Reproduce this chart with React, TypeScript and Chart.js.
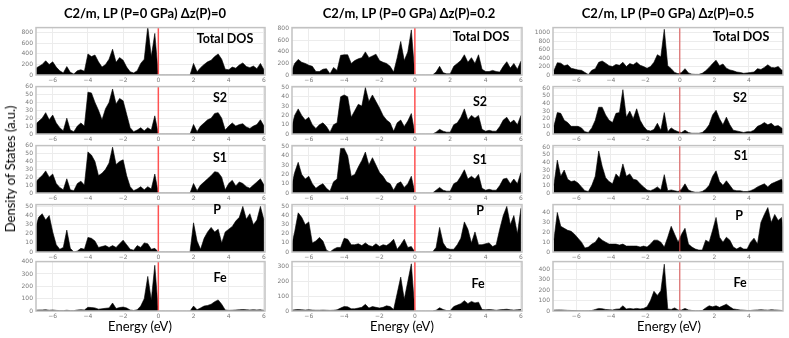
import React, { useEffect, useRef } from 'react';
import { Chart, registerables } from 'chart.js';
Chart.register(...registerables);

// ---------- text ----------
const TITLES = ['C2/m, LP (P=0 GPa) Δz(P)=0', 'C2/m, LP (P=0 GPa) Δz(P)=0.2', 'C2/m, LP (P=0 GPa) Δz(P)=0.5'];
const PANEL_NAMES = ['Total DOS', 'S2', 'S1', 'P', 'Fe'];
const Y_TITLE = 'Density of States (a.u.)';
const X_TITLE = 'Energy (eV)';
const X_TICKS = [-6, -4, -2, 0, 2, 4, 6];
const Y_STEPS = [200, 10, 10, 10, 100];

// ---------- energy grids (eV) ----------
const ENERGY_A = [
  -7.0, -6.8, -6.6, -6.4, -6.2,
  -6.0, -5.8, -5.6, -5.4, -5.2,
  -5.0, -4.8, -4.6, -4.4, -4.2,
  -4.0, -3.8, -3.6, -3.4, -3.2,
  -3.0, -2.8, -2.6, -2.4, -2.2,
  -2.0, -1.8, -1.6, -1.4, -1.2,
  -1.0, -0.8, -0.6, -0.4, -0.2,
  0.0, 0.2, 0.4, 0.6, 0.8,
  1.0, 1.2, 1.4, 1.6, 1.8,
  2.0, 2.2, 2.4, 2.6, 2.8,
  3.0, 3.2, 3.4, 3.6, 3.8,
  4.0, 4.2, 4.4, 4.6, 4.8,
  5.0, 5.2, 5.4, 5.6, 5.8,
  6.0,
];
const ENERGY_B = [
  -7.3, -7.1, -6.9, -6.7, -6.5,
  -6.3, -6.1, -5.9, -5.7, -5.5,
  -5.3, -5.1, -4.9, -4.7, -4.5,
  -4.3, -4.1, -3.9, -3.7, -3.5,
  -3.3, -3.1, -2.9, -2.7, -2.5,
  -2.3, -2.1, -1.9, -1.7, -1.5,
  -1.3, -1.1, -0.9, -0.7, -0.5,
  -0.3, -0.1, 0.1, 0.3, 0.5,
  0.7, 0.9, 1.1, 1.3, 1.5,
  1.7, 1.9, 2.1, 2.3, 2.5,
  2.7, 2.9, 3.1, 3.3, 3.5,
  3.7, 3.9, 4.1, 4.3, 4.5,
  4.7, 4.9, 5.1, 5.3, 5.5,
  5.7, 5.9, 6.1,
];

// ---------- Δz(P)=0 (grid ENERGY_A) ----------
const TOTAL_0 = [
  120, 160, 200, 270, 200,
  250, 150, 80, 40, 160,
  50, 20, 80, 100, 70,
  400, 350, 380, 250, 150,
  200, 300, 490, 240, 330,
  280, 150, 60, 40, 80,
  220, 300, 920, 350, 790,
  0, 0, 0, 0, 0,
  0, 0, 0, 0, 0,
  220, 60, 140, 200, 250,
  280, 350, 400, 300, 110,
  100, 150, 130, 190, 230,
  160, 140, 170, 120, 220,
  100,
];
const S2_0 = [
  12, 16, 20, 27, 18,
  24, 14, 8, 4, 20,
  5, 3, 10, 14, 10,
  53, 52, 40, 30, 18,
  32, 40, 57, 38, 45,
  42, 25, 8, 3, 5,
  8, 4, 8, 5, 23,
  0, 0, 0, 0, 0,
  0, 0, 0, 0, 0,
  12, 3, 10, 14, 18,
  20, 26, 27, 20, 5,
  10, 14, 10, 12, 13,
  9, 7, 10, 12, 18,
  10,
];
const S1_0 = [
  13, 18, 22, 28, 20,
  24, 12, 7, 4, 18,
  4, 3, 12, 15, 10,
  52, 48, 40, 22, 25,
  30, 38, 58, 36, 40,
  42, 22, 8, 3, 5,
  8, 4, 8, 5, 24,
  0, 0, 0, 0, 0,
  0, 0, 0, 0, 0,
  12, 3, 10, 14, 18,
  22, 27, 26, 20, 4,
  12, 16, 9, 14, 12,
  8, 6, 10, 14, 18,
  10,
];
const P_0 = [
  25, 38, 42, 35, 40,
  22, 8, 3, 5, 24,
  4, 0, 1, 4, 3,
  16, 15, 12, 5, 6,
  7, 5, 7, 5, 9,
  13, 8, 3, 2, 7,
  5, 10, 9, 3, 4,
  0, 0, 0, 0, 0,
  0, 0, 0, 0, 0,
  32, 12, 3, 15, 22,
  27, 22, 25, 10, 22,
  25, 28, 34, 38, 50,
  36, 42, 30, 35, 50,
  35,
];
const FE_0 = [
  5, 8, 8, 10, 6,
  8, 5, 3, 3, 6,
  3, 3, 8, 10, 8,
  30, 28, 25, 15, 18,
  22, 25, 65, 20, 28,
  32, 25, 8, 4, 10,
  40, 100, 280, 90, 370,
  0, 0, 0, 0, 0,
  0, 0, 0, 0, 0,
  40, 10, 25, 40, 45,
  55, 75, 90, 55, 8,
  5, 6, 8, 10, 12,
  10, 8, 10, 8, 10,
  5,
];

// ---------- Δz(P)=0.2 (grid ENERGY_A) ----------
const TOTAL_02 = [
  50, 200, 270, 220, 200,
  170, 150, 60, 60, 100,
  110, 20, 130, 80, 340,
  350, 350, 200, 250, 280,
  300, 400, 300, 330, 360,
  250, 220, 200, 150, 50,
  300, 580, 250, 400, 780,
  0, 0, 0, 0, 0,
  0, 50, 150, 40, 20,
  20, 150, 200, 250, 350,
  220, 300, 200, 350, 100,
  60, 60, 80, 60, 50,
  150, 230, 120, 200, 100,
  240,
];
const S2_02 = [
  5, 20, 27, 20, 15,
  18, 10, 6, 10, 12,
  8, 2, 10, 12, 40,
  42, 40, 18, 25, 32,
  30, 50, 35, 42, 35,
  28, 20, 15, 12, 3,
  12, 15, 8, 14, 22,
  0, 0, 0, 0, 0,
  0, 2, 5, 3, 2,
  2, 10, 12, 18, 27,
  15, 20, 17, 20, 5,
  3, 4, 3, 3, 8,
  15, 18, 12, 15, 10,
  20,
];
const S1_02 = [
  5, 22, 33, 20, 15,
  18, 10, 5, 8, 10,
  5, 2, 12, 15, 48,
  48, 40, 18, 20, 28,
  35, 44, 30, 38, 30,
  22, 18, 12, 10, 3,
  10, 12, 6, 10, 18,
  0, 0, 0, 0, 0,
  0, 3, 6, 3, 2,
  2, 10, 12, 18, 25,
  15, 18, 15, 20, 5,
  3, 4, 3, 3, 8,
  15, 16, 10, 15, 10,
  22,
];
const P_02 = [
  5, 22, 43, 38, 30,
  33, 10, 12, 16, 12,
  2, 0, 3, 5, 5,
  15, 14, 8, 8, 9,
  7, 10, 7, 6, 9,
  6, 8, 7, 10, 14,
  3, 8, 14, 5, 6,
  0, 0, 0, 0, 0,
  0, 5, 27, 10, 4,
  3, 3, 8, 15, 33,
  25, 10, 22, 8, 8,
  9, 10, 6, 8, 25,
  40, 50, 30, 40, 20,
  48,
];
const FE_02 = [
  5, 8, 10, 8, 6,
  8, 6, 5, 5, 6,
  5, 4, 5, 8, 20,
  30, 28, 15, 15, 20,
  25, 45, 20, 30, 25,
  20, 25, 35, 30, 10,
  120, 230, 80, 200, 320,
  0, 0, 0, 0, 0,
  0, 5, 22, 10, 3,
  3, 30, 40, 50, 70,
  50, 65, 55, 60, 10,
  8, 10, 8, 5, 8,
  10, 12, 8, 6, 8,
  10,
];

// ---------- Δz(P)=0.5 (grid ENERGY_B) ----------
const TOTAL_05 = [
  100, 290, 280, 220, 240,
  160, 140, 120, 110, 60,
  10, 110, 150, 300, 330,
  280, 220, 200, 250, 230,
  300, 200, 270, 240, 300,
  230, 200, 160, 200, 300,
  480, 430, 1080, 220, 150,
  60, 30, 60, 150, 50,
  20, 15, 15, 40, 100,
  180, 270, 350, 220, 260,
  160, 120, 100, 70, 60,
  40, 50, 60, 70, 150,
  130, 180, 240, 180, 170,
  200, 120, 100,
];
const S2_05 = [
  10, 28, 27, 18, 15,
  10, 10, 10, 8, 3,
  2, 8, 18, 35, 35,
  25, 18, 15, 27, 28,
  58, 22, 30, 20, 33,
  18, 10, 5, 4, 6,
  14, 5, 28, 3, 8,
  5, 3, 2, 5, 2,
  1, 1, 1, 2, 6,
  12, 25, 31, 20, 12,
  22, 12, 5, 4, 3,
  2, 3, 3, 5, 10,
  12, 15, 12, 14, 10,
  11, 8, 5,
];
const S1_05 = [
  10, 43, 22, 30, 18,
  15, 16, 13, 8, 3,
  2, 10, 22, 55, 35,
  20, 15, 12, 25, 20,
  38, 22, 25, 18, 17,
  12, 8, 4, 3, 5,
  8, 4, 24, 3, 4,
  3, 2, 5, 12, 4,
  2, 1, 1, 2, 5,
  10, 22, 29, 15, 10,
  16, 10, 4, 3, 3,
  2, 2, 3, 5, 8,
  10, 12, 8, 12, 14,
  16, 18, 10,
];
const P_05 = [
  12, 40, 26, 24, 22,
  21, 18, 14, 10, 4,
  5, 8, 10, 15, 12,
  10, 8, 8, 8, 7,
  8, 6, 6, 6, 6,
  5, 6, 5, 8, 12,
  12, 10, 5, 15, 26,
  18, 10, 18, 24, 8,
  5, 3, 2, 2, 12,
  10, 22, 35, 15, 10,
  15, 12, 5, 3, 5,
  3, 3, 10, 14, 8,
  30, 38, 45, 30, 38,
  32, 35, 10,
];
const FE_05 = [
  8, 10, 10, 8, 6,
  5, 4, 3, 3, 2,
  3, 5, 15, 25, 22,
  15, 12, 10, 18, 20,
  50, 20, 25, 20, 25,
  20, 25, 40, 100, 190,
  150, 195, 450, 20, 15,
  30, 10, 10, 25, 10,
  5, 3, 3, 5, 30,
  50, 40, 50, 35, 50,
  65, 40, 20, 15, 10,
  8, 5, 5, 8, 10,
  12, 10, 8, 12, 10,
  8, 5, 3,
];

// axis maxima per column (Total, S2, S1, P, Fe)
const YMAX_0 = [900, 60, 60, 52, 400];
const YMAX_02 = [820, 51, 51, 52, 335];
const YMAX_05 = [1120, 62, 62, 48, 475];

// ---------- layout ----------
const COLUMNS = [
  { energies: ENERGY_A, series: [TOTAL_0, S2_0, S1_0, P_0, FE_0], ymax: YMAX_0, xmin: -6.95, xmax: 6.06, left: 36, right: 265, zeroColor: '#ff5252', zeroWidth: 1.5, titleX: 145, xTitleX: 140, labels: [[225, 38], [220, 97], [220, 157], [217, 209], [220, 277]] },
  { energies: ENERGY_A, series: [TOTAL_02, S2_02, S1_02, P_02, FE_02], ymax: YMAX_02, xmin: -6.95, xmax: 6.06, left: 292, right: 522, zeroColor: '#ff5252', zeroWidth: 1.5, titleX: 409, xTitleX: 402, labels: [[481, 36], [480, 101], [480, 159], [480, 210], [478, 283]] },
  { energies: ENERGY_B, series: [TOTAL_05, S2_05, S1_05, P_05, FE_05], ymax: YMAX_05, xmin: -7.35, xmax: 5.98, left: 553, right: 783, zeroColor: '#d84c4c', zeroWidth: 1, titleX: 668, xTitleX: 669, labels: [[741, 36], [740, 97], [741, 155], [739, 215], [740, 282]] },
];
const ROW_TOPS = [25, 84, 143, 202, 259];
const ROW_BOTTOMS = [75, 134, 193, 252, 311];
const Y_AXIS_W = 30;
const PAD_T = 4;
const PAD_R = 6;
const X_AXIS_H = 10;

const framePlugin = {
  id: 'frame',
  afterDatasetsDraw(chart: any, _args: any, opts: any) {
    const { ctx, chartArea: a, scales } = chart;
    const x0 = scales.x.getPixelForValue(0);
    ctx.save();
    ctx.strokeStyle = opts.zeroColor;
    ctx.lineWidth = opts.zeroWidth;
    ctx.beginPath();
    ctx.moveTo(x0, a.top);
    ctx.lineTo(x0, a.bottom);
    ctx.stroke();
    ctx.strokeStyle = '#c2c2c2';
    ctx.lineWidth = 1.5;
    ctx.strokeRect(a.left, a.top, a.right - a.left, a.bottom - a.top);
    ctx.restore();
  },
};

const fmt = (v: number) => (v < 0 ? '\u2212' + Math.abs(v) : String(v));

function Panel(props: any) {
  const { energies, values, ymax, ystep, xmin, xmax, left, top, w, h, zeroColor, zeroWidth } = props;
  const ref = useRef<HTMLCanvasElement>(null);
  useEffect(() => {
    const chart = new Chart(ref.current as HTMLCanvasElement, {
      type: 'line',
      data: {
        datasets: [
          {
            data: energies.map((x: number, i: number) => ({ x, y: values[i] })),
            fill: 'origin',
            backgroundColor: '#000',
            borderColor: '#000',
            borderWidth: 0.6,
            pointRadius: 0,
            tension: 0,
          },
        ],
      },
      options: {
        animation: false,
        responsive: false,
        events: [],
        layout: { padding: { left: 0, top: PAD_T, right: PAD_R, bottom: 0 } },
        plugins: {
          legend: { display: false },
          tooltip: { enabled: false },
          frame: { zeroColor, zeroWidth },
        } as any,
        scales: {
          x: {
            type: 'linear',
            min: xmin,
            max: xmax,
            afterBuildTicks: (s: any) => {
              s.ticks = X_TICKS.filter((v) => v >= xmin && v <= xmax).map((v) => ({ value: v }));
            },
            afterFit: (s: any) => {
              s.height = X_AXIS_H;
            },
            ticks: {
              font: { size: 6, family: 'DejaVu Sans' },
              color: '#7a7a7a',
              padding: 2,
              maxRotation: 0,
              autoSkip: false,
              callback: (v: any) => fmt(Number(v)),
            },
            grid: { color: '#ececec', drawTicks: false },
            border: { display: false },
          },
          y: {
            type: 'linear',
            min: 0,
            max: ymax,
            afterBuildTicks: (s: any) => {
              const t = [];
              for (let v = 0; v <= ymax + 1e-9; v += ystep) t.push({ value: v });
              s.ticks = t;
            },
            afterFit: (s: any) => {
              s.width = Y_AXIS_W;
            },
            ticks: {
              font: { size: 6, family: 'DejaVu Sans' },
              color: '#7a7a7a',
              padding: 3,
              autoSkip: false,
              callback: (v: any) => String(v),
            },
            grid: { color: '#ececec', drawTicks: false },
            border: { display: false },
          },
        },
      } as any,
      plugins: [framePlugin as any],
    });
    return () => chart.destroy();
  }, []);
  return (
    <canvas
      ref={ref}
      width={w}
      height={h}
      style={{ position: 'absolute', left, top, width: w, height: h }}
    />
  );
}

const textBase: any = {
  position: 'absolute',
  whiteSpace: 'nowrap',
  lineHeight: 1,
  transform: 'translate(-50%, -50%)',
  color: '#000',
};

export default function App() {
  const items: any[] = [];
  COLUMNS.forEach((col, c) => {
    col.series.forEach((vals, r) => {
      const plotW = col.right - col.left;
      const plotH = ROW_BOTTOMS[r] - ROW_TOPS[r];
      items.push(
        <Panel
          key={`p${c}-${r}`}
          energies={col.energies}
          values={vals}
          ymax={col.ymax[r]}
          ystep={Y_STEPS[r]}
          xmin={col.xmin}
          xmax={col.xmax}
          left={col.left - Y_AXIS_W}
          top={ROW_TOPS[r] - PAD_T}
          w={plotW + Y_AXIS_W + PAD_R}
          h={plotH + PAD_T + X_AXIS_H}
          zeroColor={col.zeroColor}
          zeroWidth={col.zeroWidth}
        />
      );
      items.push(
        <div
          key={`l${c}-${r}`}
          style={{ ...textBase, left: col.labels[r][0], top: col.labels[r][1], font: 'bold 12.5px Lato, "Open Sans", sans-serif' }}
        >
          {PANEL_NAMES[r]}
        </div>
      );
    });
    items.push(
      <div key={`t${c}`} style={{ ...textBase, left: col.titleX, top: 12.5, font: 'bold 13px Lato, "Open Sans", sans-serif' }}>
        {TITLES[c]}
      </div>
    );
    items.push(
      <div key={`x${c}`} style={{ ...textBase, left: col.xTitleX, top: 326, font: '13px Lato, "Open Sans", sans-serif' }}>
        {X_TITLE}
      </div>
    );
  });
  return (
    <div style={{ position: 'absolute', left: 0, top: 0, width: 789, height: 338, background: '#fff', overflow: 'hidden' }}>
      {items}
      <div
        style={{
          ...textBase,
          left: 10,
          top: 169,
          transform: 'translate(-50%, -50%) rotate(-90deg)',
          font: '13px Lato, "Open Sans", sans-serif',
        }}
      >
        {Y_TITLE}
      </div>
    </div>
  );
}
